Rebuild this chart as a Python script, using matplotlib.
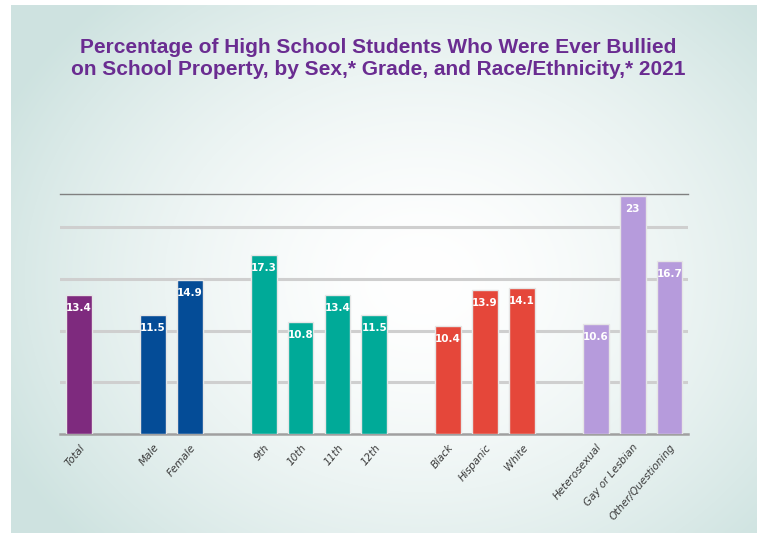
import matplotlib.pyplot as plt
import numpy as np

labels = ['Total', 'Male', 'Female', '9th', '10th', '11th', '12th',
          'Black', 'Hispanic', 'White',
          'Heterosexual', 'Gay or Lesbian', 'Other/Questioning']
values = [13.4, 11.5, 14.9, 17.3, 10.8, 13.4, 11.5,
          10.4, 13.9, 14.1, 10.6, 23, 16.7]
groups = [0, 1, 1, 2, 2, 2, 2, 3, 3, 3, 4, 4, 4]
group_colors = ['#7e2a7e', '#044c97', '#00aa98', '#e5473a', '#b69bdc']

# positions: one empty slot between groups
positions = []
p = 0
for i, g in enumerate(groups):
    if i > 0 and g != groups[i - 1]:
        p += 1
    positions.append(p)
    p += 1

W, H = 757, 533
fig = plt.figure(figsize=(W / 100, H / 100), dpi=100)
fig.patch.set_facecolor('white')

# radial gradient background panel
bg = fig.add_axes([11 / W, 0, (W - 11) / W, (H - 5) / H], zorder=0)
ny, nx = 300, 420
yy, xx = np.mgrid[0:ny, 0:nx]
cx, cy = nx * 0.55, ny * 0.52
r = np.sqrt(((xx - cx) / (nx * 0.62)) ** 2 + ((yy - cy) / (ny * 0.72)) ** 2)
t = np.clip(r, 0, 1) ** 1.6
edge = np.array([0.81, 0.89, 0.88])
img = (1 - t)[..., None] * np.array([1.0, 1.0, 1.0]) + t[..., None] * edge
bg.imshow(img, aspect='auto', interpolation='bilinear')
bg.axis('off')

ax = fig.add_axes([60 / W, 1 - 434 / H, 628 / W, 240 / H], zorder=1)
ax.set_facecolor('none')
colors = [group_colors[g] for g in groups]
bars = ax.bar(positions, values, width=0.7, color=colors,
              edgecolor='#e6e6e6', linewidth=1, zorder=3)
for x, v in zip(positions, values):
    ax.annotate(f'{v:g}', (x, v), xytext=(0, -13), textcoords='offset pixels',
                ha='center', va='center', color='white', fontsize=7.5,
                fontweight='bold', zorder=4)

ax.set_xlim(-0.52, 16.5)
ax.set_ylim(0, 23.2)
ax.set_yticks([5, 10, 15, 20])
ax.yaxis.grid(True, color='#cfcfcf', linewidth=2.2, zorder=1)
ax.tick_params(axis='y', length=0, labelleft=False)
ax.tick_params(axis='x', length=0, pad=6)
ax.set_xticks(positions)
ax.set_xticklabels(labels, rotation=50, ha='right', rotation_mode='anchor',
                   fontstyle='italic', fontsize=7.5, color='#3a3a3a')
for s in ['left', 'right']:
    ax.spines[s].set_visible(False)
ax.spines['top'].set_color('#808080')
ax.spines['top'].set_linewidth(1)
ax.spines['bottom'].set_color('#a0a0a0')
ax.spines['bottom'].set_linewidth(1.8)

fig.text(378 / W, 1 - 58.5 / H,
         'Percentage of High School Students Who Were Ever Bullied\n'
         'on School Property, by Sex,* Grade, and Race/Ethnicity,* 2021',
         ha='center', va='center', fontsize=15, fontweight='bold',
         color='#6a2c91', family='Liberation Sans', linespacing=1.15)

fig.savefig('out.png', dpi=100)
